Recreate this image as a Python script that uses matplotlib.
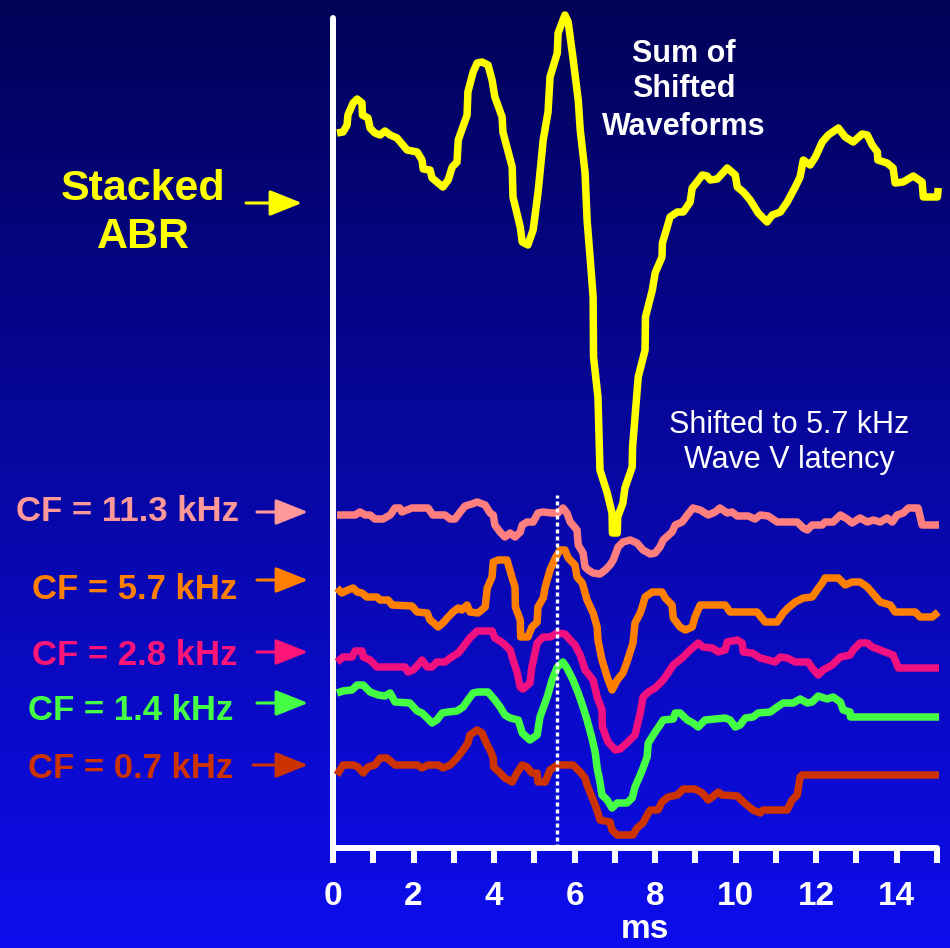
import matplotlib
matplotlib.use("Agg")
import matplotlib.pyplot as plt
import numpy as np
from matplotlib.ticker import MultipleLocator

plt.rcParams['font.family'] = ['Liberation Sans', 'DejaVu Sans']

# --- waveforms: time (ms) and amplitude (arbitrary units) ---
yellow_t = [0.10, 0.25, 0.35, 0.37, 0.50, 0.60, 0.72, 0.73, 0.87, 0.92,
            1.04, 1.17, 1.29, 1.42, 1.59, 1.84, 2.09, 2.21, 2.24, 2.41,
            2.46, 2.58, 2.73, 2.86, 2.96, 3.08, 3.11, 3.33, 3.35, 3.48,
            3.58, 3.70, 3.85, 3.95, 4.02, 4.20, 4.22, 4.45, 4.47, 4.65,
            4.70, 4.84, 4.97, 5.09, 5.14, 5.22, 5.34, 5.39, 5.57, 5.59,
            5.76, 5.84, 5.96, 6.09, 6.14, 6.26, 6.31, 6.39, 6.46, 6.47,
            6.58, 6.63, 6.81, 6.93, 6.94, 7.06, 7.07, 7.20, 7.25, 7.43,
            7.44, 7.50, 7.58, 7.75, 7.76, 7.93, 8.00, 8.17, 8.18, 8.30,
            8.37, 8.55, 8.70, 8.87, 8.92, 9.04, 9.17, 9.29, 9.37, 9.54,
            9.61, 9.79, 9.99, 10.04, 10.19, 10.36, 10.56, 10.78, 10.91, 11.11,
            11.28, 11.48, 11.60, 11.68, 11.85, 11.98, 12.15, 12.30, 12.55, 12.72,
            12.92, 13.14, 13.27, 13.39, 13.52, 13.53, 13.76, 13.91, 13.96, 14.16,
            14.41, 14.63, 14.66, 15.01, 15.03]
yellow_v = [0, 1, 8, 18, 30, 34, 30, 18, 15, 5,
            0, -2, 2, -2, -5, -17, -19, -27, -36, -37,
            -45, -49, -54, -47, -34, -29, -7, 18, 41, 61,
            70, 71, 68, 53, 36, 16, 1, -34, -64, -94,
            -109, -112, -97, -60, -40, -7, 21, 56, 80, 100,
            118, 111, 75, 33, 3, -40, -87, -127, -164, -224,
            -264, -337, -360, -380, -400, -400, -384, -370, -355, -334,
            -314, -284, -244, -217, -184, -157, -140, -124, -110, -94,
            -84, -79, -79, -69, -55, -49, -42, -43, -47, -46,
            -43, -35, -42, -54, -59, -67, -80, -89, -82, -79,
            -69, -54, -44, -27, -32, -24, -9, -2, 5, -4,
            -9, -1, -2, -12, -19, -27, -30, -35, -50, -49,
            -43, -49, -64, -64, -55]

cf113_t = [0.10, 0.55, 0.67, 0.80, 0.92, 1.04, 1.24, 1.42, 1.54, 1.66,
           1.71, 1.96, 2.36, 2.48, 2.78, 2.91, 3.03, 3.16, 3.28, 3.45,
           3.58, 3.78, 3.90, 3.98, 4.02, 4.15, 4.27, 4.40, 4.52, 4.65,
           4.70, 4.82, 4.97, 5.09, 5.22, 5.44, 5.59, 5.71, 5.81, 5.89,
           6.06, 6.09, 6.21, 6.26, 6.34, 6.46, 6.63, 6.76, 6.88, 6.96,
           7.08, 7.20, 7.38, 7.55, 7.70, 7.88, 8.00, 8.12, 8.20, 8.42,
           8.50, 8.67, 8.80, 8.94, 9.12, 9.32, 9.49, 9.61, 9.79, 9.91,
           10.04, 10.31, 10.48, 10.61, 10.81, 11.03, 11.53, 11.68, 11.78, 11.90,
           12.15, 12.22, 12.42, 12.60, 12.77, 12.89, 13.09, 13.27, 13.42, 13.59,
           13.76, 13.89, 14.01, 14.16, 14.29, 14.53, 14.63, 15.05]
cf113_v = [0, 0, 3, 0, 0, -4, -4, 0, 7, 7,
           3, 7, 7, 0, 0, -4, -4, 3, 9, 11,
           13, 10, 2, 0, -10, -17, -22, -18, -22, -17,
           -10, -7, -7, 2, 3, 2, 2, 7, 2, -7,
           -15, -30, -38, -52, -55, -58, -59, -55, -50, -45,
           -32, -27, -25, -28, -35, -39, -38, -32, -25, -17,
           -10, -7, 0, 7, 5, 0, 3, 7, 2, 3,
           -1, -1, -4, 0, -1, -7, -7, -13, -15, -10,
           -10, -7, -7, 0, -4, -8, -3, -7, -5, -7,
           -3, -7, 0, 2, 7, 7, -10, -10]

cf57_t = [0.10, 0.22, 0.37, 0.50, 0.60, 0.72, 0.84, 1.09, 1.17, 1.37,
          1.47, 1.96, 2.09, 2.34, 2.41, 2.53, 2.61, 2.73, 2.86, 2.98,
          3.11, 3.20, 3.33, 3.40, 3.60, 3.78, 3.83, 3.95, 3.98, 4.10,
          4.32, 4.45, 4.52, 4.53, 4.65, 4.66, 4.84, 4.94, 5.07, 5.09,
          5.22, 5.27, 5.39, 5.52, 5.64, 5.76, 5.84, 6.01, 6.06, 6.19,
          6.31, 6.46, 6.56, 6.58, 6.68, 6.81, 6.93, 7.06, 7.20, 7.30,
          7.45, 7.50, 7.63, 7.68, 7.75, 7.93, 8.17, 8.25, 8.42, 8.45,
          8.62, 8.75, 8.92, 8.99, 9.12, 9.74, 9.86, 10.53, 10.73, 11.03,
          11.18, 11.30, 11.48, 11.68, 11.90, 12.02, 12.15, 12.22, 12.55, 12.72,
          12.89, 13.09, 13.27, 13.59, 13.84, 13.96, 14.46, 14.58, 14.88, 15.03]
cf57_v = [2, -3, 0, 2, -2, -3, -7, -7, -10, -10,
          -15, -16, -22, -23, -30, -34, -37, -33, -27, -22,
          -18, -20, -15, -22, -23, -17, 2, 13, 28, 30,
          30, 12, 3, -17, -30, -47, -47, -37, -32, -17,
          -8, 3, 20, 32, 40, 40, 32, 25, 13, 7,
          -10, -23, -37, -50, -70, -87, -100, -90, -83, -72,
          -53, -33, -23, -17, -7, -2, -2, -8, -15, -28,
          -37, -40, -37, -27, -15, -15, -22, -22, -32, -32,
          -23, -18, -12, -8, -7, 0, 7, 12, 12, 5,
          8, 8, 3, -12, -15, -22, -22, -27, -27, -22]

cf28_t = [0.10, 0.25, 0.47, 0.55, 0.72, 0.75, 0.92, 1.09, 1.79, 1.86,
          1.99, 2.11, 2.21, 2.34, 2.46, 2.58, 2.78, 2.91, 3.11, 3.23,
          3.40, 3.58, 3.95, 4.02, 4.22, 4.40, 4.47, 4.57, 4.65, 4.72,
          4.89, 4.94, 5.07, 5.22, 5.39, 5.57, 5.76, 5.89, 6.01, 6.14,
          6.26, 6.46, 6.56, 6.68, 6.69, 6.83, 7.01, 7.13, 7.30, 7.50,
          7.63, 7.70, 7.83, 8.00, 8.20, 8.32, 8.45, 8.67, 8.87, 9.07,
          9.19, 9.42, 9.57, 9.74, 9.79, 10.04, 10.16, 10.19, 10.41, 10.61,
          10.81, 10.98, 11.11, 11.28, 11.48, 11.80, 11.90, 12.05, 12.17, 12.40,
          12.60, 12.84, 12.92, 13.09, 13.27, 13.39, 13.59, 13.71, 13.91, 14.04,
          15.05]
cf28_v = [0, 5, 5, 11, 11, 5, 2, -5, -5, -10,
          -8, -3, 2, -5, -5, 0, 0, 4, 9, 15,
          24, 31, 31, 24, 19, 12, 2, -10, -25, -27,
          -21, -5, 19, 25, 25, 29, 28, 22, 17, 7,
          -8, -18, -35, -48, -65, -80, -88, -87, -81, -73,
          -51, -35, -30, -26, -18, -11, -3, 4, 12, 19,
          15, 14, 10, 12, 20, 22, 19, 10, 9, 4,
          2, 0, 5, 4, 0, 0, -6, -13, -8, -3,
          5, 7, 12, 19, 19, 15, 12, 10, 7, -6,
          -6]

cf14_t = [0.10, 0.25, 0.47, 0.60, 0.75, 0.92, 1.12, 1.29, 1.42, 1.54,
          1.91, 2.09, 2.21, 2.34, 2.46, 2.58, 2.71, 2.86, 3.08, 3.23,
          3.35, 3.48, 3.60, 3.85, 4.02, 4.15, 4.27, 4.40, 4.60, 4.70,
          4.89, 5.07, 5.14, 5.32, 5.44, 5.57, 5.71, 5.81, 5.96, 6.09,
          6.21, 6.31, 6.43, 6.51, 6.56, 6.63, 6.68, 6.81, 6.93, 7.06,
          7.30, 7.43, 7.50, 7.63, 7.70, 7.80, 7.83, 8.00, 8.12, 8.20,
          8.45, 8.50, 8.62, 8.80, 8.94, 9.07, 9.24, 9.74, 9.86, 9.99,
          10.11, 10.24, 10.43, 10.56, 10.86, 11.03, 11.18, 11.43, 11.60, 11.78,
          11.90, 12.05, 12.27, 12.42, 12.60, 12.67, 12.84, 12.85, 15.05]
cf14_v = [-3, -1, 0, 5, 5, -2, -5, -6, -3, -12,
          -13, -21, -23, -28, -33, -30, -23, -22, -21, -17,
          -10, -3, -2, -2, -10, -17, -25, -28, -30, -43,
          -50, -45, -27, -7, 10, 23, 28, 22, 10, -3,
          -17, -30, -48, -62, -78, -92, -105, -110, -118, -113,
          -113, -108, -97, -85, -78, -67, -53, -42, -35, -30,
          -29, -23, -23, -30, -33, -37, -30, -28, -30, -37,
          -35, -28, -27, -23, -22, -17, -13, -13, -9, -13,
          -12, -6, -9, -7, -12, -20, -22, -27, -27]

cf07_t = [0.10, 0.25, 0.50, 0.62, 0.75, 0.87, 1.04, 1.17, 1.34, 1.54,
          2.09, 2.21, 2.36, 2.61, 2.73, 2.91, 3.08, 3.23, 3.35, 3.40,
          3.58, 3.70, 3.83, 3.90, 3.98, 3.99, 4.15, 4.27, 4.45, 4.57,
          4.70, 4.82, 4.94, 5.07, 5.09, 5.27, 5.39, 5.57, 5.96, 6.14,
          6.26, 6.31, 6.39, 6.51, 6.58, 6.63, 6.88, 6.93, 7.06, 7.45,
          7.55, 7.70, 7.83, 7.88, 8.07, 8.17, 8.32, 8.55, 8.70, 8.99,
          9.17, 9.32, 9.42, 9.57, 9.66, 10.04, 10.19, 10.43, 10.61, 10.68,
          11.28, 11.40, 11.53, 11.60, 11.65, 15.05]
cf07_v = [-8, 2, 2, 0, -6, 0, 2, 9, 9, 2,
          2, -1, 2, 2, -1, 2, 9, 17, 24, 32,
          37, 34, 22, 17, 9, 0, -6, -11, -15, -6,
          2, 0, -6, -6, -15, -15, -3, 2, 2, -5,
          -11, -18, -26, -38, -46, -53, -55, -63, -68, -68,
          -61, -56, -46, -43, -43, -35, -30, -28, -22, -22,
          -26, -33, -30, -25, -28, -29, -35, -43, -46, -43,
          -43, -33, -28, -10, -8, -8]

cf_labels = ["CF = 11.3 kHz", "CF = 5.7 kHz", "CF = 2.8 kHz", "CF = 1.4 kHz", "CF = 0.7 kHz"]
# vertical stacking offsets of each trace baseline (display units)
stack_offsets = [715, 333, 258, 186, 158, 81]
wave_v_latency = 5.57  # ms, 5.7 kHz wave V
x_ticks_major = [0, 2, 4, 6, 8, 10, 12, 14]

# --- styling ---
line_colors = ["#FFFF00", "#FF7F7F", "#FF8000", "#F0107F", "#44FF44", "#CC3300"]
label_colors = ["#FF9999", "#FF8000", "#FF1477", "#44FF44", "#CC3300"]

W, H = 950, 948
fig = plt.figure(figsize=(W / 100, H / 100), dpi=100)

# background gradient (dark navy to bright blue)
bg = fig.add_axes([0, 0, 1, 1])
top = np.array([2, 2, 88]) / 255
bottom = np.array([13, 13, 238]) / 255
frac = np.linspace(0, 1, 256)[:, None, None]
grad = top[None, None, :] * (1 - frac) + bottom[None, None, :] * frac
bg.imshow(grad, extent=(0, W, H, 0), aspect='auto')
bg.set_xlim(0, W)
bg.set_ylim(H, 0)
bg.axis('off')

# data axes: 0..15 ms spans px 333..937, y spans px 848..18
ax = fig.add_axes([333 / W, (H - 848) / H, 604 / W, 830 / H])
ax.patch.set_alpha(0)
ax.set_xlim(0, 15)
ax.set_ylim(0, 830)

traces = [(yellow_t, yellow_v), (cf113_t, cf113_v), (cf57_t, cf57_v),
          (cf28_t, cf28_v), (cf14_t, cf14_v), (cf07_t, cf07_v)]
zorders = [8, 7, 5, 4, 6, 3]
for (t, v), off, c, z in zip(traces, stack_offsets, line_colors, zorders):
    ax.plot(t, np.array(v) + off, color=c, lw=5.4, solid_joinstyle='round',
            solid_capstyle='butt', clip_on=False, zorder=z)

ax.vlines(wave_v_latency, 0, 353, colors='white', lw=2.4,
          linestyles=(0, (1.2, 0.9)), zorder=9)

for side in ['top', 'right']:
    ax.spines[side].set_visible(False)
for side in ['left', 'bottom']:
    ax.spines[side].set_color('white')
    ax.spines[side].set_linewidth(4.3)
    ax.spines[side].set_capstyle('round')
ax.set_yticks([])
ax.xaxis.set_major_locator(MultipleLocator(2))
ax.xaxis.set_minor_locator(MultipleLocator(1))
ax.tick_params(axis='x', which='both', direction='out', length=11, width=4.3,
               color='white')
ax.tick_params(axis='x', which='major', labelsize=24, labelcolor='white', pad=13)
ax.set_xticks(x_ticks_major)
for lab in ax.get_xticklabels():
    lab.set_fontweight('bold')
ax.set_xlabel('ms', color='white', fontsize=24, fontweight='bold', va='baseline')
ax.xaxis.set_label_coords(0.517, -0.1084)

# --- annotations ---
bg.text(143, 200, "Stacked", color='#FFFF00', fontsize=31, fontweight='bold',
        ha='center', va='baseline')
bg.text(143, 248, "ABR", color='#FFFF00', fontsize=31, fontweight='bold',
        ha='center', va='baseline')
bg.annotate('', xy=(302, 203), xytext=(246, 203),
            arrowprops=dict(arrowstyle='-|>,head_length=1.0,head_width=0.4',
                            color='#FFFF00', lw=2.2, mutation_scale=20,
                            shrinkA=0, shrinkB=0))

for txt, y in zip(["Sum of", "Shifted", "Waveforms"], [62, 97, 135]):
    bg.text(684, y, txt, color='white', fontsize=22, fontweight='bold',
            ha='center', va='baseline')
for txt, y in zip(["Shifted to 5.7 kHz", "Wave V latency"], [433, 468]):
    bg.text(789, y, txt, color='white', fontsize=22, ha='center', va='baseline')

label_right = [239, 237, 237, 233, 233]
label_base = [521, 599, 665, 720, 778]
arrow_y = [512, 580, 652, 703, 765]
arrow_x0 = [257, 257, 257, 257, 253]
for txt, c, xr, yb, ay, ax0 in zip(cf_labels, label_colors, label_right,
                                   label_base, arrow_y, arrow_x0):
    bg.text(xr, yb, txt, color=c, fontsize=25, fontweight='bold',
            ha='right', va='baseline')
    bg.annotate('', xy=(308, ay), xytext=(ax0, ay),
                arrowprops=dict(arrowstyle='-|>,head_length=1.0,head_width=0.4',
                                color=c, lw=2.2, mutation_scale=20,
                                shrinkA=0, shrinkB=0))

fig.savefig('out.png', dpi=100, facecolor=fig.get_facecolor())
